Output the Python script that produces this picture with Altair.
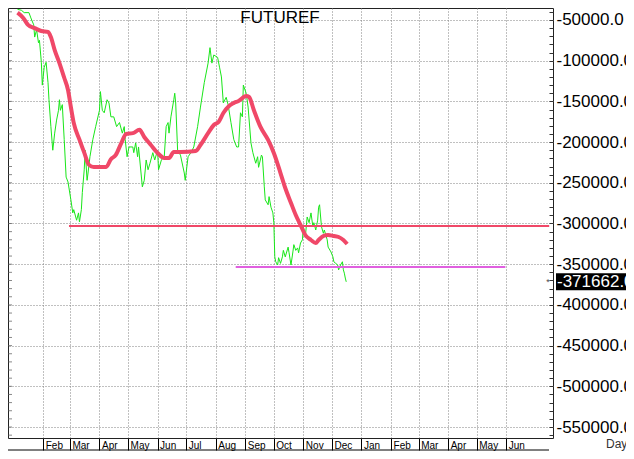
import altair as alt
import pandas as pd

# ---------------- data ----------------
green_dates = [
    "2023-01-05", "2023-01-09", "2023-01-12", "2023-01-17", "2023-01-19", "2023-01-22",
    "2023-01-23", "2023-01-25", "2023-01-27", "2023-01-28", "2023-01-30", "2023-01-31",
    "2023-02-02", "2023-02-04", "2023-02-06", "2023-02-07", "2023-02-09", "2023-02-11",
    "2023-02-13", "2023-02-15", "2023-02-17", "2023-02-18", "2023-02-19", "2023-02-21",
    "2023-02-23", "2023-02-25", "2023-02-27", "2023-03-02", "2023-03-04", "2023-03-05",
    "2023-03-08", "2023-03-10", "2023-03-11", "2023-03-13", "2023-03-14", "2023-03-16",
    "2023-03-17", "2023-03-19", "2023-03-20", "2023-03-22", "2023-03-25", "2023-03-28",
    "2023-04-01", "2023-04-02", "2023-04-04", "2023-04-06", "2023-04-09", "2023-04-11",
    "2023-04-13", "2023-04-16", "2023-04-19", "2023-04-22", "2023-04-25", "2023-04-27",
    "2023-04-28", "2023-04-30", "2023-05-02", "2023-05-06", "2023-05-07", "2023-05-09",
    "2023-05-11", "2023-05-12", "2023-05-16", "2023-05-18", "2023-05-20", "2023-05-22",
    "2023-05-24", "2023-05-27", "2023-05-29", "2023-06-01", "2023-06-02", "2023-06-05",
    "2023-06-08", "2023-06-10", "2023-06-12", "2023-06-13", "2023-06-15", "2023-06-18",
    "2023-06-19", "2023-06-20", "2023-06-22", "2023-06-25", "2023-06-29", "2023-06-30",
    "2023-07-03", "2023-07-06", "2023-07-09", "2023-07-13", "2023-07-16", "2023-07-20",
    "2023-07-24", "2023-07-26", "2023-07-28", "2023-07-30", "2023-08-03", "2023-08-05",
    "2023-08-07", "2023-08-09", "2023-08-12", "2023-08-14", "2023-08-17", "2023-08-20",
    "2023-08-23", "2023-08-25", "2023-08-27", "2023-08-29", "2023-08-30", "2023-09-02",
    "2023-09-04", "2023-09-07", "2023-09-09", "2023-09-12", "2023-09-14", "2023-09-15",
    "2023-09-18", "2023-09-19", "2023-09-21", "2023-09-22", "2023-09-25", "2023-09-26",
    "2023-09-28", "2023-09-30", "2023-10-01", "2023-10-02", "2023-10-03", "2023-10-05",
    "2023-10-06", "2023-10-08", "2023-10-10", "2023-10-11", "2023-10-13", "2023-10-16",
    "2023-10-17", "2023-10-19", "2023-10-21", "2023-10-22", "2023-10-24", "2023-10-26",
    "2023-10-27", "2023-10-29", "2023-10-31", "2023-11-01", "2023-11-03", "2023-11-05",
    "2023-11-07", "2023-11-09", "2023-11-11", "2023-11-12", "2023-11-14", "2023-11-16",
    "2023-11-17", "2023-11-18", "2023-11-20", "2023-11-22", "2023-11-23", "2023-11-26",
    "2023-11-27", "2023-11-30", "2023-12-02", "2023-12-03", "2023-12-05", "2023-12-07",
    "2023-12-08", "2023-12-10", "2023-12-12", "2023-12-13", "2023-12-14", "2023-12-15",
    "2023-12-16",
]
green_values = [
    -37000, -38000, -41000, -41000, -47500, -56000,
    -71000, -62000, -78000, -75000, -102000, -130000,
    -108000, -102000, -127000, -148000, -181000, -210000,
    -189000, -173000, -161000, -148000, -161000, -154000,
    -197000, -243000, -249000, -271000, -287000, -283000,
    -296000, -287000, -298000, -283000, -262000, -234000,
    -210000, -247000, -238000, -218000, -197000, -181000,
    -161000, -138000, -161000, -164000, -148000, -152000,
    -169000, -169000, -181000, -176000, -189000, -181000,
    -197000, -218000, -206000, -206000, -213000, -201000,
    -218000, -206000, -255000, -247000, -222000, -234000,
    -226000, -213000, -222000, -210000, -234000, -222000,
    -218000, -181000, -176000, -189000, -169000, -148000,
    -140000, -152000, -210000, -216000, -238000, -247000,
    -218000, -213000, -206000, -181000, -157000, -127000,
    -103000, -84000, -103000, -93000, -96000, -108000,
    -120000, -152000, -145000, -154000, -176000, -197000,
    -206000, -206000, -164000, -169000, -130000, -140000,
    -157000, -201000, -213000, -226000, -218000, -231000,
    -216000, -218000, -255000, -271000, -277000, -267000,
    -280000, -287000, -299000, -341000, -347000, -351000,
    -342000, -349000, -341000, -333000, -341000, -329000,
    -336000, -351000, -335000, -326000, -333000, -330000,
    -336000, -324000, -320000, -304000, -317000, -292000,
    -299000, -287000, -304000, -299000, -308000, -296000,
    -280000, -277000, -304000, -312000, -308000, -320000,
    -329000, -335000, -341000, -347000, -349000, -351000,
    -357000, -351000, -347000, -357000, -361000, -367000,
    -371662,
]

avg_dates = [
    "2023-01-05", "2023-01-11", "2023-01-16", "2023-01-23", "2023-01-30", "2023-02-06",
    "2023-02-09", "2023-02-13", "2023-02-18", "2023-02-23", "2023-02-27", "2023-03-02",
    "2023-03-05", "2023-03-11", "2023-03-16", "2023-03-21", "2023-03-26", "2023-04-08",
    "2023-04-13", "2023-04-18", "2023-04-24", "2023-04-29", "2023-05-06", "2023-05-13",
    "2023-05-18", "2023-05-25", "2023-06-01", "2023-06-08", "2023-06-13", "2023-06-18",
    "2023-06-25", "2023-07-11", "2023-07-16", "2023-07-24", "2023-07-30", "2023-08-04",
    "2023-08-09", "2023-08-15", "2023-08-20", "2023-08-25", "2023-09-02", "2023-09-05",
    "2023-09-10", "2023-09-17", "2023-09-25", "2023-10-01", "2023-10-08", "2023-10-13",
    "2023-10-19", "2023-10-24", "2023-10-29", "2023-11-03", "2023-11-09", "2023-11-14",
    "2023-11-17", "2023-11-22", "2023-11-27", "2023-12-03", "2023-12-08", "2023-12-13",
    "2023-12-17",
]
avg_values = [
    -41000, -47500, -56000, -60000, -63500, -64700,
    -71000, -87000, -103000, -121000, -136000, -157000,
    -176500, -197000, -213000, -228000, -230600, -230600,
    -221000, -216000, -201000, -190000, -189000, -185000,
    -193700, -203600, -213400, -219500, -219500, -212200,
    -212200, -211000, -203600, -189000, -179000, -175300,
    -164300, -155700, -152000, -149500, -143400, -144600,
    -160600, -181400, -197400, -213400, -238000, -256400,
    -274800, -289600, -301800, -314100, -320300, -324000,
    -320300, -315400, -314100, -315400, -316600, -320300,
    -325200,
]

resistance_level = [-303000]
resistance_span = ["2023-02-28", "2024-07-16"]
support_level = [-353500]
support_span = ["2023-08-22", "2024-05-31"]
last_value = [-371662]

month_starts = [f"2023-{m:02d}-01" for m in range(2, 13)] + [f"2024-{m:02d}-01" for m in range(1, 7)]
year_dates = ["2023-01-01", "2024-01-01"]
year_labels = ["2023", "2024"]
minor_y_ticks = list(range(-40000, -560001, -10000))

# ---------------- tables ----------------
green_df = pd.DataFrame({"date": green_dates, "value": green_values})
avg_df = pd.DataFrame({"date": avg_dates, "value": avg_values})
res_df = pd.DataFrame({"start": [resistance_span[0]], "end": [resistance_span[1]],
                       "value": resistance_level})
sup_df = pd.DataFrame({"start": [support_span[0]], "end": [support_span[1]],
                       "value": support_level})
last_df = pd.DataFrame({"value": last_value,
                        "label": ["-" + f"{abs(v):.1f}" for v in last_value]})
year_df = pd.DataFrame({"date": year_dates, "label": year_labels})
minor_df = pd.DataFrame({"value": minor_y_ticks})
one = pd.DataFrame({"k": [0]})

def to_ms(s):
    return int(pd.Timestamp(s, tz="UTC").value // 10**6)

W, H = 545, 430
FONT = "Liberation Sans"

x_scale = alt.Scale(type="utc", domain=[to_ms("2022-12-26"), to_ms("2024-07-20")])
y_scale = alt.Scale(domain=[-563500, -35300], nice=False, zero=False)

month_axis = alt.Axis(
    values=[to_ms(d) for d in month_starts],
    labelExpr="utcFormat(datum.value, '%b')", title=None, domain=False,
    grid=True, gridDash=[1, 2], gridColor="#808080",
    tickSize=12, tickColor="black", labelAlign="left", labelBaseline="top",
    labelOffset=2, labelPadding=-10, labelFontSize=10, labelFont=FONT,
    labelColor="black", labelFlush=False, labelOverlap=False,
)

right_axis = alt.Axis(
    orient="right", values=minor_y_ticks, title=None, domain=False,
    offset=-4, tickSize=4, tickColor="#333",
    labelExpr="datum.value % 50000 == 0 ? '-' + format(abs(datum.value), '.1f') : ''",
    labelFont=FONT, labelFontSize=17, labelColor="black", labelPadding=3,
    labelOverlap=False, labelBaseline="middle",
    grid=True, gridDash=[1, 2], gridColor="#808080",
    gridOpacity={"condition": {"test": "datum.value % 50000 == 0", "value": 1}, "value": 0},
)


def X(field):
    return alt.X(field, type="temporal", scale=x_scale, axis=month_axis)


def Y(field):
    return alt.Y(field, type="quantitative", scale=y_scale, axis=right_axis)


green = alt.Chart(green_df).mark_line(color="#19e619", strokeWidth=1).encode(
    x=X("date"), y=Y("value"),
)

avg = alt.Chart(avg_df).mark_line(color="#f04868", strokeWidth=4, interpolate="monotone").encode(
    x=X("date"), y=Y("value"),
)

res = alt.Chart(res_df).mark_rule(color="#f04868", strokeWidth=2).encode(
    x=X("start"), x2="end", y=Y("value"),
)

sup = alt.Chart(sup_df).mark_rule(color="#e060e0", strokeWidth=2).encode(
    x=X("start"), x2="end", y=Y("value"),
)

left_ticks = alt.Chart(minor_df).mark_tick(color="#555", size=4, thickness=1).encode(
    x=alt.value(2), y=Y("value"),
)

box = alt.Chart(last_df).mark_rect(color="black", height=17).encode(
    x=alt.value(548), x2=alt.value(640), y=Y("value"),
)
box_text = alt.Chart(last_df).mark_text(
    color="white", font=FONT, fontSize=17, align="left", baseline="middle"
).encode(x=alt.value(549), y=Y("value"), text="label:N")
star = alt.Chart(last_df).mark_text(
    text="*", color="#444", fontSize=9, align="center", baseline="middle"
).encode(x=alt.value(540), y=Y("value"))

title = alt.Chart(one).mark_text(
    text="FUTUREF", font=FONT, fontSize=17, color="black", align="center", baseline="middle"
).encode(x=alt.value(272), y=alt.value(10))

row_line = alt.Chart(one).mark_rule(color="black", strokeWidth=1).encode(
    x=alt.value(0), x2=alt.value(541), y=alt.value(442)
)

years = alt.Chart(year_df).mark_text(
    font=FONT, fontSize=10, fontWeight="bold", color="black", align="left", baseline="top", dx=-2
).encode(x=X("date"), y=alt.value(443), text="label:N")

day = alt.Chart(one).mark_text(
    text="Day", font=FONT, fontSize=12, color="#333", align="left", baseline="top"
).encode(x=alt.value(598), y=alt.value(431))

chart = alt.layer(
    green, avg, res, sup, left_ticks, box, box_text, star, title, row_line, years, day
).properties(
    width=W, height=H,
    padding={"left": 0, "top": 0, "right": 73, "bottom": 13},
    autosize=alt.AutoSizeParams(type="none"),
    background="white",
).configure_view(stroke="#222", strokeWidth=1)

chart.save("out.html", embed_options={"renderer": "svg", "actions": False})
